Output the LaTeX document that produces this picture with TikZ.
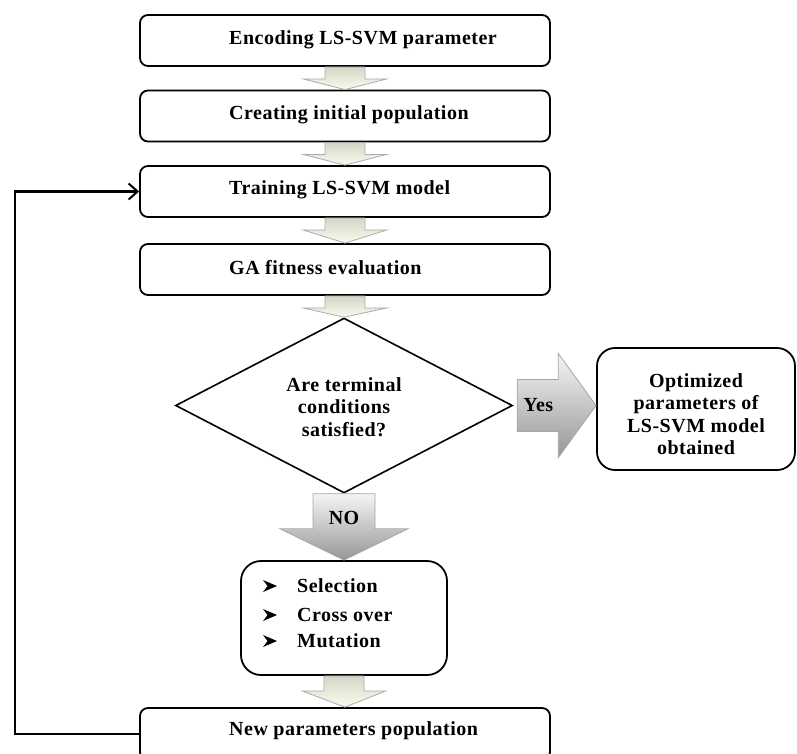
\documentclass[tikz,border=0pt]{standalone}
\usepackage{fontspec}
\setmainfont{Liberation Serif}
\usetikzlibrary{shapes.geometric,calc,arrows.meta}
\definecolor{creamtop}{RGB}{214,214,200}
\definecolor{creambot}{RGB}{250,250,238}
\definecolor{greytop}{RGB}{245,245,245}
\definecolor{greybot}{RGB}{150,150,150}
\begin{document}
\begin{tikzpicture}[x=1pt,y=-1pt,
  font=\bfseries\fontsize{20}{22.5}\selectfont\addfontfeatures{LetterSpace=2.5},
  box/.style={draw, line width=1.8pt, rounded corners=8pt, minimum width=410pt, minimum height=51pt, inner sep=0pt},
  lbl/.style={anchor=west, inner sep=0pt},
  bulletarrow/.pic={\fill (-7,-6) -- (7,0) -- (-7,6) -- (-2.5,0) -- cycle;},
  smallarrow/.style={draw=gray!65, line width=0.8pt, top color=creamtop, bottom color=creambot},
  bigarrow/.style={draw=gray!70, line width=0.8pt, top color=greytop, bottom color=greybot},
  loopline/.style={line width=2.2pt, -{Straight Barb[length=9pt,width=16pt,line width=2pt]}}
]
\useasboundingbox (0,0) rectangle (797,753);
\clip (0,0) rectangle (797,753);

% boxes
\node[box] (b1) at (345,40.5) {};
\node[box] (b2) at (345,116) {};
\node[box] (b3) at (345,191.5) {};
\node[box] (b4) at (345,269.5) {};
\node[box, minimum height=52pt] (b5) at (345,734) {};

\node[lbl] (t1) at (229,40) {Encoding LS-SVM parameter};
\node[lbl] (t2) at (229,115) {Creating initial population};
\node[lbl] (t3) at (229,190) {Training LS-SVM model};
\node[lbl] (t4) at (229,268) {GA fitness evaluation};
\node[lbl] (t5) at (229,731) {New parameters population};

% decision
\node[diamond, draw, line width=1.6pt, shape aspect=1.9, minimum width=337pt, minimum height=175pt, inner sep=0pt] (dia) at (344,405.5) {};
\node[align=center, inner sep=0pt] (tdia) at (344,407) {Are terminal\\conditions\\satisfied?};

% result box
\node[draw, line width=1.8pt, rounded corners=18pt, minimum width=198pt, minimum height=122pt, inner sep=0pt] (opt) at (696,409) {};
\node[align=center, inner sep=0pt] (topt) at (696,414) {Optimized\\parameters of\\LS-SVM model\\obtained};

% operators box
\node[draw, line width=1.8pt, rounded corners=20pt, minimum width=206pt, minimum height=114pt, inner sep=0pt] (sel) at (344,618) {};
\pic at (270,586) {bulletarrow};
\pic at (270,615) {bulletarrow};
\pic at (270,641) {bulletarrow};
\node[lbl] (s1) at (297,586) {Selection};
\node[lbl] (s2) at (297,615) {Cross over};
\node[lbl] (s3) at (297,641) {Mutation};

% small block arrows
\newcommand\downblock[3]{%
  \draw[smallarrow] ($(#1.south)+(-20,0)$) -- ($(#1.south)+(20,0)$) -- ($(#1.south)+(20,#3)$) -- ($(#1.south)+(42,#3)$) -- (#2.north) -- ($(#1.south)+(-42,#3)$) -- ($(#1.south)+(-20,#3)$) -- cycle;}
\downblock{b1}{b2}{12}
\downblock{b2}{b3}{12}
\downblock{b3}{b4}{12}
\downblock{b4}{dia}{12}
\downblock{sel}{b5}{15}

% NO arrow
\draw[bigarrow] ($(dia.south)+(-31,0)$) -- ($(dia.south)+(31,0)$) -- ($(dia.south)+(31,35)$) -- ($(dia.south)+(64,35)$) -- (sel.north) -- ($(dia.south)+(-64,35)$) -- ($(dia.south)+(-31,35)$) -- cycle;
\node (no) at ($(dia.south)+(0,24)$) {NO};

% Yes arrow
\draw[bigarrow] ($(dia.east)+(4,-26)$) -- ($(dia.east)+(45,-26)$) -- ($(dia.east)+(45,-52)$) -- (dia.east -| opt.west) -- ($(dia.east)+(45,52)$) -- ($(dia.east)+(45,26)$) -- ($(dia.east)+(4,26)$) -- cycle;
\node (yes) at ($(dia.east)+(25,0)$) {Yes};

% feedback loop
\coordinate (lx) at (15,0);
\draw[loopline] (b5.west) -- (b5.west -| lx) -- (b3.west -| lx) -- (b3.west);
\end{tikzpicture}
\end{document}
